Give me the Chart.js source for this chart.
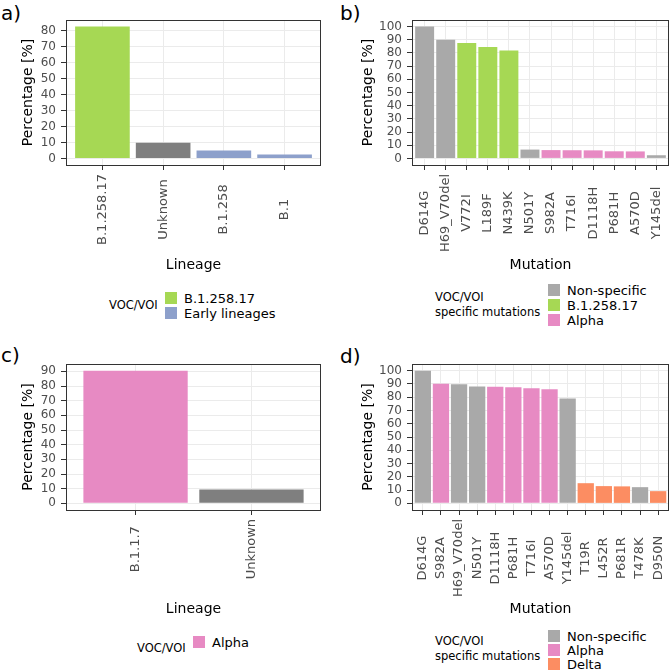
<!DOCTYPE html>
<html>
<head>
<meta charset="utf-8">
<script src="https://cdn.jsdelivr.net/npm/chart.js@4.4.1/dist/chart.umd.min.js"></script>
<style>
  html, body { margin: 0; padding: 0; background: #fff; }
  body { width: 671px; height: 670px; position: relative; overflow: hidden; font-family: 'DejaVu Sans', sans-serif; }
  .panel { position: absolute; }
  .tag { position: absolute; font-size: 20px; line-height: 20px; color: #000; }
  .lg-title { position: absolute; font-size: 11.5px; line-height: 15px; color: #000; white-space: nowrap; }
  .lg-key { position: absolute; width: 12px; height: 12px; }
  .lg-label { position: absolute; font-size: 13px; line-height: 15px; color: #000; white-space: nowrap; }
</style>
</head>
<body>
<div class="tag" style="left:1px;top:3px">a)</div>
<div class="tag" style="left:340px;top:3px">b)</div>
<div class="tag" style="left:1px;top:345px">c)</div>
<div class="tag" style="left:340px;top:346px">d)</div>

<div class="panel" style="left:0;top:0"><canvas id="chartA" width="335" height="280"></canvas></div>
<div class="panel" style="left:335px;top:0"><canvas id="chartB" width="336" height="280"></canvas></div>
<div class="panel" style="left:0;top:335px"><canvas id="chartC" width="335" height="285"></canvas></div>
<div class="panel" style="left:335px;top:335px"><canvas id="chartD" width="336" height="285"></canvas></div>
<div id="legends"></div>

<script>
// a) lineages, first period
const lineageA = ['B.1.258.17', 'Unknown', 'B.1.258', 'B.1'];
const pctA = [82.6, 9.8, 4.9, 2.4];
const vocA = ['B.1.258.17', 'Unknown', 'Early lineages', 'Early lineages'];
const yTicksA = [0, 10, 20, 30, 40, 50, 60, 70, 80];

// b) mutations, first period
const mutationB = ['D614G', 'H69_V70del', 'V772I', 'L189F', 'N439K', 'N501Y',
  'S982A', 'T716I', 'D1118H', 'P681H', 'A570D', 'Y145del'];
const pctB = [100, 90, 87.5, 84.6, 81.8, 6.7, 6.3, 6.2, 6.1, 5.4, 5.3, 2.4];
const vocB = ['Non-specific', 'Non-specific', 'B.1.258.17', 'B.1.258.17', 'B.1.258.17', 'Non-specific',
  'Alpha', 'Alpha', 'Alpha', 'Alpha', 'Alpha', 'Non-specific'];
const yTicksB = [0, 10, 20, 30, 40, 50, 60, 70, 80, 90, 100];

// c) lineages, second period
const lineageC = ['B.1.1.7', 'Unknown'];
const pctC = [90.5, 9.5];
const vocC = ['Alpha', 'Unknown'];
const yTicksC = [0, 10, 20, 30, 40, 50, 60, 70, 80, 90];

// d) mutations, second period
const mutationD = ['D614G', 'S982A', 'H69_V70del', 'N501Y', 'D1118H', 'P681H', 'T716I',
  'A570D', 'Y145del', 'T19R', 'L452R', 'P681R', 'T478K', 'D950N'];
const pctD = [100, 90.1, 89.7, 88.1, 87.8, 87.4, 86.7, 86.0, 79.0, 15.2, 13.0, 12.8, 12.2, 9.2];
const vocD = ['Non-specific', 'Alpha', 'Non-specific', 'Non-specific', 'Alpha', 'Alpha', 'Alpha',
  'Alpha', 'Non-specific', 'Delta', 'Delta', 'Delta', 'Non-specific', 'Delta'];
const yTicksD = [0, 10, 20, 30, 40, 50, 60, 70, 80, 90, 100];

const VOC_COLORS = {
  'B.1.258.17': '#A6D854',
  'Early lineages': '#8DA0CB',
  'Alpha': '#E78AC3',
  'Delta': '#FC8D62',
  'Unknown': '#7F7F7F',
  'Non-specific': '#A9A9A9'
};

Chart.defaults.font.family = "'DejaVu Sans', sans-serif";

// full panel border like ggplot's theme_bw
const panelBorder = {
  id: 'panelBorder',
  afterDatasetsDraw(chart) {
    const { ctx, chartArea: a } = chart;
    ctx.save();
    ctx.strokeStyle = '#333333';
    ctx.lineWidth = 1;
    ctx.strokeRect(Math.round(a.left) + 0.5, Math.round(a.top) + 0.5,
      Math.round(a.right - a.left) - 1, Math.round(a.bottom - a.top));
    ctx.restore();
  }
};

// vertical x labels centred on a common line (ggplot angle = 90, vjust = 0.5)
function centredLabels(labels) {
  return {
    id: 'centredLabels',
    afterDraw(chart) {
      const { ctx, chartArea: a } = chart;
      const x = chart.scales.x;
      ctx.save();
      ctx.font = "13px 'DejaVu Sans', sans-serif";
      ctx.fillStyle = '#4D4D4D';
      const maxW = Math.max(...labels.map(l => ctx.measureText(l).width));
      const cy = a.bottom + 9 + maxW / 2;
      labels.forEach((l, i) => {
        ctx.save();
        ctx.translate(x.getPixelForValue(i), cy);
        ctx.rotate(-Math.PI / 2);
        ctx.textAlign = 'center';
        ctx.textBaseline = 'middle';
        ctx.fillText(l, 0, 0);
        ctx.restore();
      });
      ctx.restore();
    }
  };
}

/**
 * Bar panel: x is linear so the discrete range can be expanded by 0.6 like ggplot
 */
function barPanel(id, labels, values, groups, yTicks, xTitle, box) {
  const ymax = Math.max(...values);
  return new Chart(document.getElementById(id), {
    type: 'bar',
    data: {
      datasets: [{
        data: values.map((v, i) => ({ x: i, y: v })),
        backgroundColor: groups.map(g => VOC_COLORS[g]),
        borderWidth: 0,
        barPercentage: 0.9,
        categoryPercentage: 1
      }]
    },
    plugins: [panelBorder, centredLabels(labels)],
    options: {
      responsive: false,
      animation: false,
      layout: { padding: { top: box.top, right: box.right, left: 0, bottom: 0 } },
      plugins: { legend: { display: false }, tooltip: { enabled: false } },
      scales: {
        x: {
          type: 'linear',
          min: -0.6,
          max: labels.length - 0.4,
          offset: false,
          grid: { offset: false, color: '#EBEBEB', lineWidth: 1, tickLength: 5, tickColor: '#333333', tickWidth: 1 },
          border: { display: false },
          afterBuildTicks: s => { s.ticks = labels.map((l, i) => ({ value: i })); },
          afterFit: s => { s.height = box.xHeight; s.paddingLeft = 0; s.paddingRight = 0; },
          ticks: { display: false, autoSkip: false },
          title: { display: true, text: xTitle, color: '#000', font: { size: 14 }, padding: { top: 0, bottom: box.xTitlePad } }
        },
        y: {
          min: -0.05 * ymax,
          max: 1.05 * ymax,
          grid: { color: '#EBEBEB', lineWidth: 1, tickLength: 5, tickColor: '#333333', tickWidth: 1 },
          border: { display: false },
          afterBuildTicks: s => { s.ticks = yTicks.map(v => ({ value: v })); },
          afterFit: s => { s.width = box.yWidth; s.paddingTop = 0; s.paddingBottom = 0; },
          ticks: { autoSkip: false, padding: 5, color: '#4D4D4D', font: { size: 12 } },
          title: { display: true, text: 'Percentage [%]', color: '#000', font: { size: 14 }, padding: { top: box.yTitlePad, bottom: 0 } }
        }
      }
    }
  });
}

barPanel('chartA', lineageA, pctA, vocA, yTicksA, 'Lineage',
  { top: 20, right: 14, yWidth: 66, xHeight: 115, xTitlePad: 6.6, yTitlePad: 19.6 });
barPanel('chartB', mutationB, pctB, vocB, yTicksB, 'Mutation',
  { top: 20, right: 2, yWidth: 77, xHeight: 115, xTitlePad: 6.6, yTitlePad: 25 });
barPanel('chartC', lineageC, pctC, vocC, yTicksC, 'Lineage',
  { top: 29, right: 14, yWidth: 66, xHeight: 110, xTitlePad: 2.6, yTitlePad: 19.6 });
barPanel('chartD', mutationD, pctD, vocD, yTicksD, 'Mutation',
  { top: 29, right: 2, yWidth: 77, xHeight: 110, xTitlePad: 2.6, yTitlePad: 25 });

// ggplot-style legends: title on the left, keys stacked on the right
function legend(titleLines, titleX, titleCy, keyX, keyTop, pitch, items) {
  const host = document.getElementById('legends');
  const t = document.createElement('div');
  t.className = 'lg-title';
  t.style.left = titleX + 'px';
  t.style.top = (titleCy - titleLines.length * 15 / 2) + 'px';
  t.innerHTML = titleLines.join('<br>');
  host.appendChild(t);
  items.forEach((g, i) => {
    const k = document.createElement('div');
    k.className = 'lg-key';
    k.style.left = keyX + 'px';
    k.style.top = (keyTop + i * pitch) + 'px';
    k.style.background = VOC_COLORS[g];
    host.appendChild(k);
    const l = document.createElement('div');
    l.className = 'lg-label';
    l.style.left = (keyX + 19) + 'px';
    l.style.top = (keyTop + i * pitch - 1.5) + 'px';
    l.textContent = g;
    host.appendChild(l);
  });
}

legend(['VOC/VOI'], 109, 305, 165, 292, 15, ['B.1.258.17', 'Early lineages']);
legend(['VOC/VOI', 'specific mutations'], 435, 304.5, 548, 284, 15, ['Non-specific', 'B.1.258.17', 'Alpha']);
legend(['VOC/VOI'], 137, 648, 193, 636, 15, ['Alpha']);
legend(['VOC/VOI', 'specific mutations'], 435, 649, 548, 630, 14, ['Non-specific', 'Alpha', 'Delta']);
</script>
</body>
</html>
